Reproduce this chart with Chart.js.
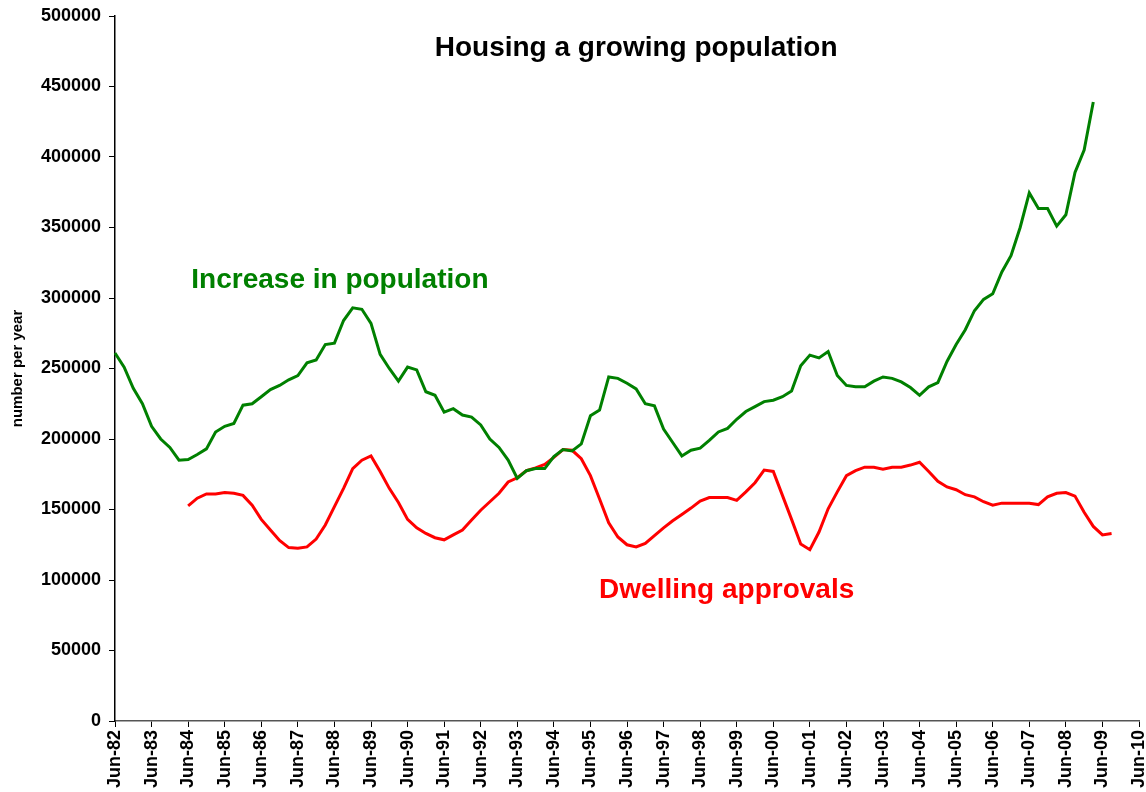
<!DOCTYPE html>
<html>
<head>
<meta charset="utf-8">
<script src="https://cdn.jsdelivr.net/npm/chart.js@4.4.1/dist/chart.umd.min.js"></script>
<style>
  html, body { margin: 0; padding: 0; background: #fff; }
  #wrap { width: 1146px; height: 792px; }
</style>
</head>
<body>
<div id="wrap"><canvas id="housingChart"></canvas></div>
<script>
// quarterly labels, Jun-82 .. Jun-10
const months = ["Jun", "Sep", "Dec", "Mar"];
const quarters = [];
for (let i = 0; i <= 112; i++) {
  const yr = 82 + Math.floor((i + 2) / 4);
  quarters.push(months[i % 4] + "-" + String(yr % 100).padStart(2, "0"));
}

const yTicks = [0, 50000, 100000, 150000, 200000, 250000, 300000, 350000, 400000, 450000, 500000];

// increase in population, Jun-82 .. Mar-09
const population = [
  261000, 251000, 236000, 225000, 209000, 200000, 194000, 185000,
  185500, 189000, 193000, 205000, 209000, 211000, 224000, 225000,
  230000, 235000, 238000, 242000, 245000, 254000, 256000, 267000,
  268000, 284000, 293000, 292000, 282000, 260000, 250000, 241000,
  251000, 249000, 233500, 231000, 219000, 221500, 217000, 215500,
  210000, 200000, 194000, 185000, 172000, 177500, 179000, 179000,
  187500, 192500, 191500, 196500, 216500, 220500, 244000, 243000,
  239500, 235500, 225000, 223500, 207000, 197500, 188000, 192000,
  193500, 199000, 205000, 207500, 214000, 219500, 223000, 226500,
  227500, 230000, 234000, 252000, 259500, 257500, 262000, 245000,
  238000, 237000, 237000, 241000, 244000, 243000, 240500, 236500,
  231000, 237000, 240000, 255000, 267000, 277500, 291000, 299000,
  303000, 318500, 330000, 350000, 374500, 363500, 363500, 351000,
  359000, 389000, 405000, 439000
];

// dwelling approvals, Jun-84 .. Sep-09
const approvals = [
  null, null, null, null, null, null, null, null,
  152500, 158000, 161000, 161000, 162000, 161500, 160000, 153000,
  143000, 135500, 128000, 123000, 122500, 123500, 129000, 139000,
  152000, 165000, 179000, 185000, 188000, 177000, 165000, 155000,
  143000, 137000, 133000, 130000, 128500, 132000, 135500, 142500,
  149500, 155500, 161500, 169500, 172500, 177500, 179500, 182000,
  187000, 192500, 192000, 186000, 174000, 157500, 140500, 130500,
  125000, 123500, 126000, 131500, 137000, 142000, 146500, 151000,
  156000, 158500, 158500, 158500, 156500, 162500, 169000, 178000,
  177000, 160000, 143000, 125500, 121500, 134000, 150500, 162500,
  174000, 177500, 180000, 180000, 178500, 180000, 180000, 181500,
  183500, 177000, 170000, 166000, 164000, 160500, 159000, 155500,
  153000, 154500, 154500, 154500, 154500, 153500, 159000, 161500,
  162000, 159500, 148000, 138000, 132000, 133000
];

// text drawn inside the plot, placed by axis values
const notes = [
  { text: "Housing a growing population", at: 57, value: 471500, color: "#000000" },
  { text: "Increase in population", at: 24.6, value: 307000, color: "#008000" },
  { text: "Dwelling approvals", at: 66.9, value: 87000, color: "#ff0000" }
];

const notesPlugin = {
  id: "notes",
  afterDatasetsDraw(chart) {
    const ctx = chart.ctx;
    const xs = chart.scales.x, ys = chart.scales.y;
    ctx.save();
    ctx.font = "bold 28px 'Liberation Sans', Arial, sans-serif";
    ctx.textAlign = "center";
    ctx.textBaseline = "alphabetic";
    notes.forEach(n => {
      ctx.fillStyle = n.color;
      ctx.fillText(n.text, xs.getPixelForValue(n.at), ys.getPixelForValue(n.value));
    });
    ctx.restore();
  }
};

const tickFont = { family: "'Liberation Sans', Arial, sans-serif", size: 18, weight: "bold" };

new Chart(document.getElementById("housingChart"), {
  type: "line",
  data: {
    labels: quarters,
    datasets: [
      {
        label: "Increase in population",
        data: population,
        borderColor: "#008000",
        borderWidth: 3,
        pointRadius: 0,
        tension: 0,
        fill: false
      },
      {
        label: "Dwelling approvals",
        data: approvals,
        borderColor: "#ff0000",
        borderWidth: 3,
        pointRadius: 0,
        tension: 0,
        fill: false
      }
    ]
  },
  options: {
    responsive: true,
    maintainAspectRatio: false,
    animation: false,
    layout: { padding: { left: 0, right: 7, top: 16, bottom: 0 } },
    plugins: {
      legend: { display: false },
      tooltip: { enabled: false },
      title: { display: false }
    },
    scales: {
      x: {
        type: "category",
        offset: false,
        grid: { drawOnChartArea: false, drawTicks: true, tickLength: 6, color: "#000" },
        border: { color: "#555", width: 1.5 },
        ticks: {
          autoSkip: false,
          minRotation: 90,
          maxRotation: 90,
          padding: 3,
          color: "#000",
          font: tickFont,
          callback: (v, i) => (i % 4 === 0 ? quarters[i] : null)
        },
        afterFit: s => { s.height = 71; s.paddingLeft = 0; s.paddingRight = 0; }
      },
      y: {
        min: 0,
        max: 500000,
        afterBuildTicks: s => { s.ticks = yTicks.map(v => ({ value: v })); },
        grid: { drawOnChartArea: false, drawTicks: true, tickLength: 6, color: "#000" },
        border: { color: "#000", width: 1.5 },
        ticks: { padding: 8, color: "#000", font: tickFont, callback: v => String(v) },
        title: {
          display: true,
          text: "number per year",
          color: "#000",
          font: { family: "'Liberation Sans', Arial, sans-serif", size: 15, weight: "bold" },
          padding: { top: 9, bottom: 0 }
        },
        afterFit: s => { s.width = 115; s.paddingTop = 0; s.paddingBottom = 0; }
      }
    }
  },
  plugins: [notesPlugin]
});
</script>
</body>
</html>
